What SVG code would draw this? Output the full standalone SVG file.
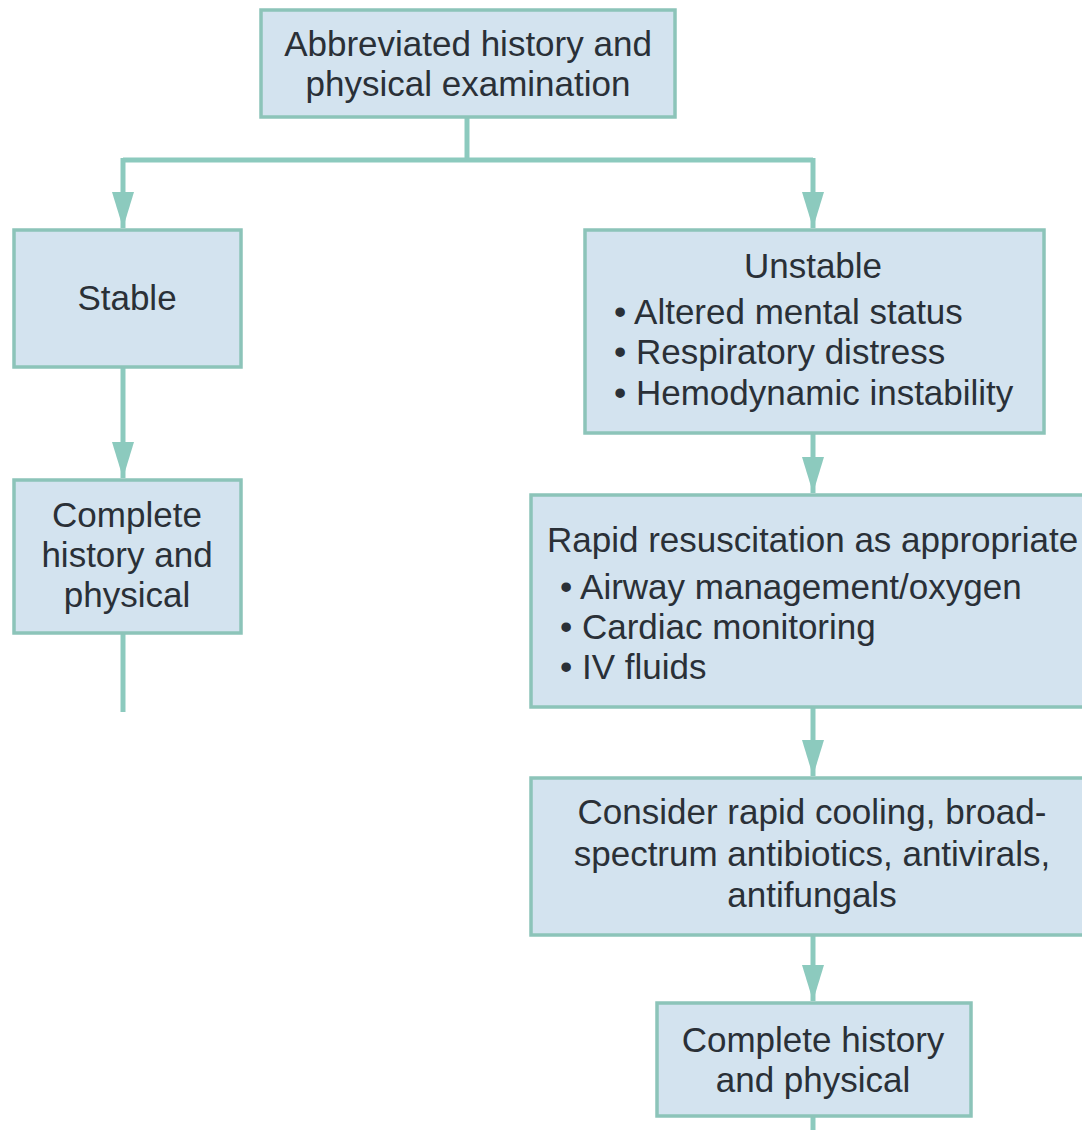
<svg xmlns="http://www.w3.org/2000/svg" width="1082" height="1130" viewBox="0 0 1082 1130">
<style>
.box{fill:#d3e3ef;stroke:#8cc4b9;stroke-width:3.5}
.t{font-family:"Liberation Sans",Arial,sans-serif;font-size:35px;fill:#2a3037}
.c{text-anchor:middle}
.ln{stroke:#8ccabe;stroke-width:5;fill:none}
</style>
<defs>
<marker id="ah" markerUnits="userSpaceOnUse" markerWidth="36" markerHeight="22" refX="36" refY="11" orient="auto">
<path d="M0,0 L36,11 L0,22 z" fill="#8ccabe"/>
</marker>
</defs>
<rect width="1082" height="1130" fill="#ffffff"/>
<g id="connectors">
<path class="ln" d="M467,117 V160"/>
<path class="ln" d="M123,160 H813"/>
<path class="ln" d="M123,158 V228" marker-end="url(#ah)"/>
<path class="ln" d="M813,158 V228" marker-end="url(#ah)"/>
<path class="ln" d="M123,367 V478" marker-end="url(#ah)"/>
<path class="ln" d="M123,633 V712"/>
<path class="ln" d="M813,433 V493" marker-end="url(#ah)"/>
<path class="ln" d="M813,707 V776" marker-end="url(#ah)"/>
<path class="ln" d="M813,935 V1001" marker-end="url(#ah)"/>
<path class="ln" d="M813,1116 V1130"/>
</g>
<g id="n_abbrev">
<rect class="box" x="261" y="10" width="414" height="107"/>
<text class="t c" x="468" y="56">Abbreviated history and</text>
<text class="t c" x="468" y="96">physical examination</text>
</g>
<g id="n_stable">
<rect class="box" x="14" y="230" width="227" height="137"/>
<text class="t c" x="127" y="310">Stable</text>
</g>
<g id="n_complete_left">
<rect class="box" x="14" y="480" width="227" height="153"/>
<text class="t c" x="127" y="527">Complete</text>
<text class="t c" x="127" y="567">history and</text>
<text class="t c" x="127" y="607">physical</text>
</g>
<g id="n_unstable">
<rect class="box" x="585" y="230" width="459" height="203"/>
<text class="t c" x="813" y="278">Unstable</text>
<text class="t" x="614" y="324">• Altered mental status</text>
<text class="t" x="614" y="364">• Respiratory distress</text>
<text class="t" x="614" y="405">• Hemodynamic instability</text>
</g>
<g id="n_rapid">
<rect class="box" x="531" y="495" width="560" height="212"/>
<text class="t" x="547" y="552">Rapid resuscitation as appropriate</text>
<text class="t" x="560" y="599">• Airway management/oxygen</text>
<text class="t" x="560" y="639">• Cardiac monitoring</text>
<text class="t" x="560" y="679">• IV fluids</text>
</g>
<g id="n_consider">
<rect class="box" x="531" y="778" width="560" height="157"/>
<text class="t c" x="812" y="824">Consider rapid cooling, broad-</text>
<text class="t c" x="812" y="866">spectrum antibiotics, antivirals,</text>
<text class="t c" x="812" y="907">antifungals</text>
</g>
<g id="n_complete_right">
<rect class="box" x="657" y="1003" width="314" height="113"/>
<text class="t c" x="813" y="1052">Complete history</text>
<text class="t c" x="813" y="1092">and physical</text>
</g>
</svg>
